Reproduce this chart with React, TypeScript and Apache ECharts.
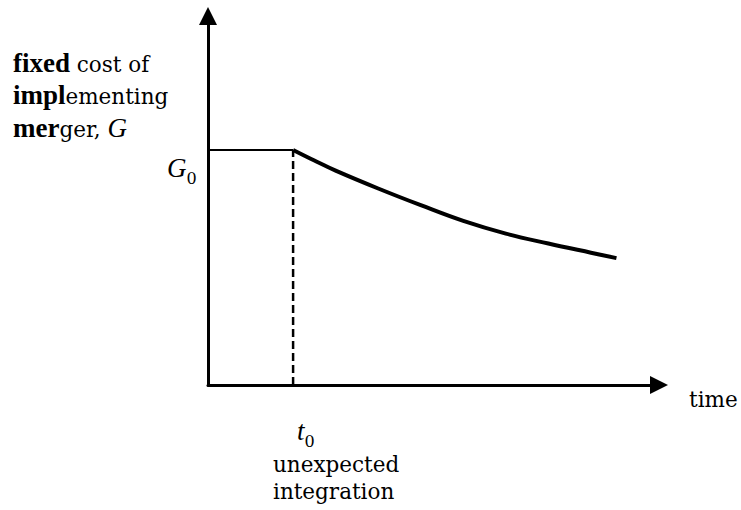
import React, { useEffect, useRef } from "react";
import * as echarts from "echarts";

// Time axis (arbitrary units) and cost axis, G0 normalised to 10
const timeMax = 10.6;
const costMax = 15.7;
const t0 = 2;
const G0 = 10;

// Cost held flat before the unexpected integration
const flatTime = [0, t0];
const flatCost = [G0, G0];

// Cost after integration, falling over time
const curveTime = [2, 2.5, 3, 4, 5, 6, 7, 8, 9, 9.6];
const curveCost = [10, 9.55, 9.12, 8.36, 7.65, 6.98, 6.44, 6.02, 5.63, 5.4];

const UPRIGHT = "'DejaVu Serif', serif";
const TIMES = "'Times New Roman', serif";
const FS = 27; // bold / italic size
const FS_R = 21.5; // upright serif size (wider face)
const SUB_FS = 16;
const LH = 24;

function pairs(xs: number[], ys: number[]) {
  return xs.map((x, i) => [x, ys[i]]);
}

const rich = {
  // top padding lowers the upright face onto the bold/italic baseline
  r: { font: `${FS_R}px ${UPRIGHT}`, fill: "#000", lineHeight: LH, padding: [4, 0, 0, 0] },
  b: { font: `bold ${FS}px ${TIMES}`, fill: "#000", lineHeight: LH },
  i: { font: `italic ${FS}px ${TIMES}`, fill: "#000", lineHeight: LH },
  // symbol + lowered subscript
  si: { font: `italic ${FS}px ${TIMES}`, fill: "#000", lineHeight: 38 },
  s: { font: `${SUB_FS}px ${UPRIGHT}`, fill: "#000", lineHeight: 17, verticalAlign: "bottom" },
};

// Text placed by its left edge and baseline
function label(x: number, baseline: number, text: string) {
  return {
    type: "text",
    x,
    y: baseline - FS * 0.345,
    style: {
      text,
      font: `${FS_R}px ${UPRIGHT}`,
      lineHeight: LH,
      fill: "#000",
      verticalAlign: "middle",
      align: "left",
      rich,
    },
  };
}

export default function App() {
  const ref = useRef<HTMLDivElement>(null);

  useEffect(() => {
    if (!ref.current) return;
    const chart = echarts.init(ref.current, null, { renderer: "svg" });
    const axisLine = {
      show: true,
      symbol: ["none", "triangle"],
      symbolSize: [18, 18],
      lineStyle: { color: "#000", width: 3 },
    };
    chart.setOption({
      animation: false,
      backgroundColor: "#fff",
      grid: { left: 208, top: 16, width: 451, height: 369 },
      xAxis: {
        type: "value",
        min: 0,
        max: timeMax,
        axisLine,
        axisTick: { show: false },
        axisLabel: { show: false },
        splitLine: { show: false },
      },
      yAxis: {
        type: "value",
        min: 0,
        max: costMax,
        axisLine,
        axisTick: { show: false },
        axisLabel: { show: false },
        splitLine: { show: false },
      },
      series: [
        {
          type: "line",
          data: pairs(flatTime, flatCost),
          symbol: "none",
          lineStyle: { color: "#000", width: 2 },
        },
        {
          type: "line",
          data: pairs([t0, t0], [0, G0]),
          symbol: "none",
          lineStyle: { color: "#000", width: 2.5, type: [8, 4] },
        },
        {
          type: "line",
          data: pairs(curveTime, curveCost),
          symbol: "none",
          smooth: 0.4,
          lineStyle: { color: "#000", width: 4 },
        },
      ],
      graphic: [
        label(13, 72, "{b|fixed}{r| cost of}"),
        label(13, 104, "{b|impl}{r|ementing}"),
        label(13, 137, "{b|mer}{r|ger, }{i|G}"),
        label(167, 177, "{si|G}{s|0}"),
        label(689, 407, "{r|time}"),
        label(297, 440, "{si|t}{s|0}"),
        label(273, 472, "{r|unexpected}"),
        label(273, 499, "{r|integration}"),
      ],
    });
    return () => chart.dispose();
  }, []);

  return (
    <div
      ref={ref}
      style={{ position: "fixed", left: 0, top: 0, width: 741, height: 510 }}
    />
  );
}
